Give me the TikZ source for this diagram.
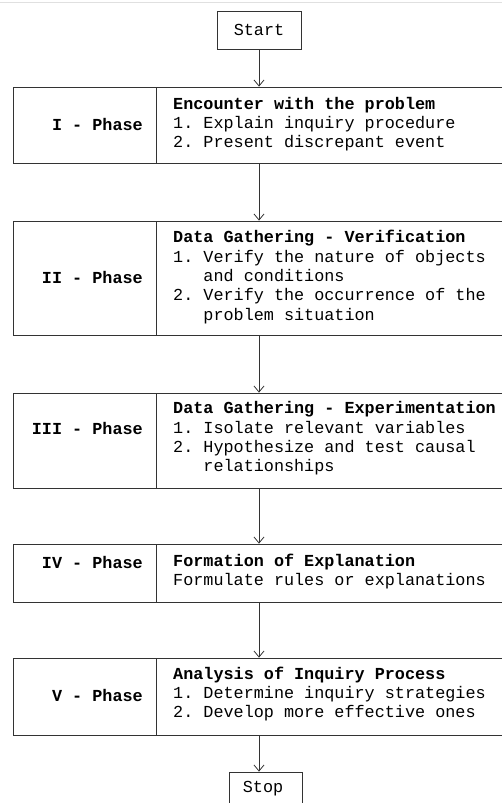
\documentclass[tikz,border=0pt]{standalone}
\usepackage{fontspec}
\setmonofont{Liberation Mono}
\usetikzlibrary{arrows.meta}
\newcommand\ffnt{\fontsize{16.8}{19.3}\selectfont\ttfamily}
\begin{document}
\begin{tikzpicture}[x=1pt,y=-1pt,
  cell/.style={draw=black!80, line width=0.8pt, rectangle, inner sep=0pt, font=\ffnt},
  txt/.style={font=\ffnt, align=left, inner sep=0pt, anchor=west},
  lbl/.style={font=\ffnt\bfseries, inner sep=0pt, anchor=east},
  arr/.style={draw=black!80, line width=0.8pt, -{Straight Barb[length=6pt,width=10pt]}}
]
\useasboundingbox (0,0) rectangle (502,803);
\clip (0,0) rectangle (502,803);
\draw[black!12, line width=1pt] (0,2.5) -- (502,2.5);

% Start
\node[cell, minimum width=84pt, minimum height=38pt] (start) at (259,30) {Start};

% Phase I
\node[cell, minimum width=143pt, minimum height=76pt] (p1l) at (84.5,125) {};
\node[cell, minimum width=354pt, minimum height=76pt] (p1c) at (333,125) {};
\node[lbl] (p1t) at (143,124) {I - Phase};
\node[txt] (p1x) at (173,124) {{\bfseries Encounter with the problem}\\1. Explain inquiry procedure\\2. Present discrepant event};

% Phase II
\node[cell, minimum width=143pt, minimum height=114pt] (p2l) at (84.5,278) {};
\node[cell, minimum width=354pt, minimum height=114pt] (p2c) at (333,278) {};
\node[lbl] (p2t) at (143,277) {II - Phase};
\node[txt] (p2x) at (173,277) {{\bfseries Data Gathering - Verification}\\1. Verify the nature of objects\\\phantom{1.~}and conditions\\2. Verify the occurrence of the\\\phantom{1.~}problem situation};

% Phase III
\node[cell, minimum width=143pt, minimum height=95pt] (p3l) at (84.5,440.5) {};
\node[cell, minimum width=354pt, minimum height=95pt] (p3c) at (333,440.5) {};
\node[lbl] (p3t) at (143,428) {III - Phase};
\node[txt] (p3x) at (173,438.5) {{\bfseries Data Gathering - Experimentation}\\1. Isolate relevant variables\\2. Hypothesize and test causal\\\phantom{1.~}relationships};

% Phase IV
\node[cell, minimum width=143pt, minimum height=58pt] (p4l) at (84.5,573) {};
\node[cell, minimum width=354pt, minimum height=58pt] (p4c) at (333,573) {};
\node[lbl] (p4t) at (143,562) {IV - Phase};
\node[txt] (p4x) at (173,571.5) {{\bfseries Formation of Explanation}\\Formulate rules or explanations};

% Phase V
\node[cell, minimum width=143pt, minimum height=77pt] (p5l) at (84.5,696.5) {};
\node[cell, minimum width=354pt, minimum height=77pt] (p5c) at (333,696.5) {};
\node[lbl] (p5t) at (143,695) {V - Phase};
\node[txt] (p5x) at (173,694) {{\bfseries Analysis of Inquiry Process}\\1. Determine inquiry strategies\\2. Develop more effective ones};

% Stop
\node[cell, minimum width=73pt, minimum height=38pt] (stop) at (265.5,791) {};
\node[font=\ffnt, inner sep=0pt] (stopt) at (263,789) {Stop};

% Connectors
\draw[arr] (start.south) -- (start.south |- p1c.north);
\draw[arr] (p1c.south -| start.south) -- (p2c.north -| start.south);
\draw[arr] (p2c.south -| start.south) -- (p3c.north -| start.south);
\draw[arr] (p3c.south -| start.south) -- (p4c.north -| start.south);
\draw[arr] (p4c.south -| start.south) -- (p5c.north -| start.south);
\draw[arr] (p5c.south -| start.south) -- (stop.north -| start.south);
\end{tikzpicture}
\end{document}
